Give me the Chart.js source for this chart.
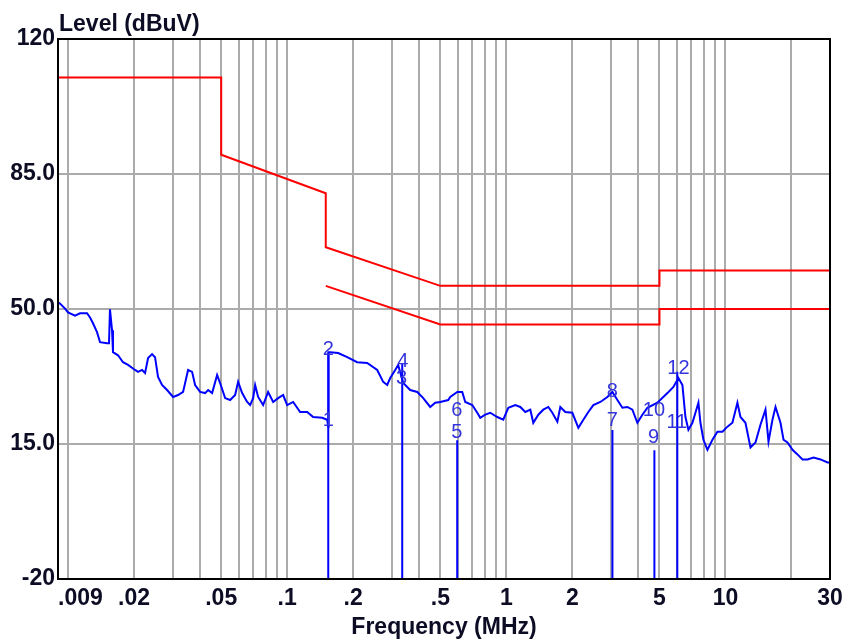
<!DOCTYPE html>
<html>
<head>
<meta charset="utf-8">
<title>Level (dBuV)</title>
<script src="https://cdn.jsdelivr.net/npm/chart.js@4.4.0/dist/chart.umd.min.js"></script>
<style>
  html, body { margin: 0; padding: 0; background: #fff; }
  canvas { display: block; }
</style>
</head>
<body>
<canvas id="myCanvas" width="853" height="639"></canvas>
<script>
// limit lines (quasi-peak and average)
const qpFreq = [0.009, 0.05, 0.05, 0.15, 0.15, 0.5, 5, 5, 30];
const qpLevel = [110, 110, 90, 80, 66, 56, 56, 60, 60];
const avFreq = [0.15, 0.5, 5, 5, 30];
const avLevel = [56, 46, 46, 50, 50];

const traceFreq = [
  0.009, 0.00919, 0.00969, 0.0100, 0.01076, 0.01134, 0.01221, 0.0126, 0.0130, 0.01356,
  0.0140, 0.01507, 0.01538, 0.01554, 0.01588, 0.01604, 0.01691, 0.01782, 0.01879, 0.02022,
  0.02087, 0.02177, 0.02247, 0.02319, 0.02418, 0.02495, 0.02575, 0.02686, 0.02831, 0.03016,
  0.03178, 0.0335, 0.03531, 0.03683, 0.03801, 0.04006, 0.04222, 0.04357, 0.04545, 0.0479,
  0.04943, 0.0521, 0.05492, 0.05788, 0.05974, 0.06231, 0.06567, 0.06776, 0.06993, 0.07142,
  0.0737, 0.07768, 0.08186, 0.0863, 0.09095, 0.09587, 0.1, 0.1065, 0.1146, 0.1234,
  0.1314, 0.1445, 0.1523, 0.1539, 0.1545, 0.1571, 0.1709, 0.1879, 0.2087, 0.2318,
  0.2576, 0.2743, 0.2861, 0.2953, 0.3112, 0.321, 0.3385, 0.3643, 0.3923, 0.4178,
  0.4495, 0.4738, 0.4995, 0.5433, 0.5549, 0.5973, 0.6294, 0.6496, 0.6992, 0.737,
  0.7606, 0.8015, 0.8449, 0.9095, 0.9687, 1.021, 1.099, 1.158, 1.221, 1.287,
  1.328, 1.40, 1.475, 1.555, 1.622, 1.71, 1.764, 1.859, 2.001, 2.132,
  2.247, 2.368, 2.496, 2.687, 2.892, 3.048, 3.213, 3.386, 3.568, 3.761,
  3.964, 4.178, 4.404, 4.892, 5.435, 5.788, 6.101, 6.363, 6.567, 6.777,
  7.069, 7.295, 7.529, 7.689, 7.935, 8.277, 8.723, 9.192, 9.69, 10.21,
  10.76, 11.34, 11.71, 12.34, 13.01, 13.71, 14.45, 15.23, 15.72, 16.39,
  16.92, 17.83, 18.41, 19.19, 20.23, 21.32, 22.47, 23.69, 25.23, 27.16,
  29.23, 30
];
const traceLevel = [
  51.7, 51.4, 50.1, 49.1, 48.3, 48.9, 48.9, 47.8, 46.3, 44.0,
  41.4, 41.1, 41.1, 49.9, 44.5, 38.8, 38.0, 36.2, 35.5, 34.2,
  33.7, 34.2, 33.4, 37.3, 38.3, 37.5, 32.4, 30.3, 29.0, 27.2,
  27.7, 28.5, 34.2, 33.7, 30.3, 28.5, 28.2, 29.0, 28.2, 32.9,
  30.8, 26.9, 26.4, 27.7, 31.1, 28.2, 25.9, 25.1, 26.9, 30.3,
  27.2, 25.1, 28.5, 25.9, 26.9, 27.7, 25.1, 25.9, 23.3, 23.3,
  22.0, 21.8, 21.3, 19.5, 38.8, 38.8, 38.6, 37.5, 36.2, 36.0,
  34.2, 31.1, 30.3, 32.1, 34.2, 35.5, 30.8, 29.0, 28.5, 26.9,
  24.6, 25.7, 25.9, 26.4, 27.2, 28.5, 28.5, 25.9, 25.1, 23.1,
  21.8, 22.6, 23.1, 22.0, 21.3, 24.4, 25.1, 24.6, 23.3, 23.9,
  20.5, 22.6, 23.9, 24.6, 23.1, 20.8, 24.6, 23.3, 23.1, 19.2,
  21.3, 23.3, 25.1, 25.9, 27.2, 28.5, 26.4, 24.4, 24.6, 23.9,
  20.5, 22.6, 24.4, 25.7, 28.2, 29.8, 32.1, 30.3, 22.0, 18.7,
  20.5, 23.1, 25.7, 20.5, 16.1, 13.5, 16.1, 18.2, 18.2, 19.5,
  20.5, 25.7, 22.0, 20.5, 14.1, 15.4, 20.0, 23.9, 15.6, 21.3,
  24.6, 20.5, 16.1, 15.4, 13.5, 12.3, 11.0, 11.0, 11.5, 11.0,
  10.2, 10.2
];

// marker lines and their numbers
const markerFreq = [0.154, 0.335, 0.597, 3.05, 4.74, 6.03];
const markerTop = [38.8, 36.0, 16.0, 18.6, 13.4, 33.7];
const markerNo = ['1', '2', '3', '4', '5', '6', '7', '8', '9', '10', '11', '12'];
const markerNoFreq = [0.154, 0.154, 0.333, 0.337, 0.594, 0.594, 3.05, 3.05, 4.70, 4.72, 6.0, 6.1];
const markerNoLevel = [21.0, 39.6, 32.1, 36.3, 18.1, 23.8, 21.2, 28.5, 16.6, 23.8, 20.7, 34.7];

// axes
const gridFreq = [
  0.009, 0.01, 0.02, 0.03, 0.04, 0.05, 0.06, 0.07, 0.08, 0.09,
  0.1, 0.2, 0.3, 0.4, 0.5, 0.6, 0.7, 0.8, 0.9,
  1, 2, 3, 4, 5, 6, 7, 8, 9, 10, 20, 30
];
const tickFreq = [0.009, 0.02, 0.05, 0.1, 0.2, 0.5, 1, 2, 5, 10, 30];
const tickText = ['.009', '.02', '.05', '.1', '.2', '.5', '1', '2', '5', '10', '30'];
const levelTicks = [-20, 15, 50, 85, 120];
const levelText = ['-20', '15.0', '50.0', '85.0', '120'];

const textColor = '#0c0c24';
const fontFamily = '"Liberation Sans", Arial, sans-serif';
Chart.defaults.font.family = fontFamily;

const pts = (xs, ys) => xs.map((f, i) => ({ x: f, y: ys[i] }));
const markerPts = markerFreq.flatMap((f, i) => [
  { x: f, y: markerTop[i] }, { x: f, y: -20 }, { x: f, y: null }
]);

const annotate = {
  id: 'annotate',
  afterDraw(chart) {
    const { ctx, chartArea: a, scales: { x, y } } = chart;
    ctx.save();
    ctx.strokeStyle = '#000';
    ctx.lineWidth = 2;
    ctx.strokeRect(a.left, a.top, a.right - a.left, a.bottom - a.top);

    ctx.fillStyle = textColor;
    ctx.font = 'bold 23px ' + fontFamily;
    ctx.textAlign = 'left';
    ctx.textBaseline = 'alphabetic';
    ctx.fillText('Level (dBuV)', a.left + 1, a.top - 8);

    // first frequency label sits inside the plot edge
    ctx.textBaseline = 'middle';
    ctx.fillText(tickText[0], x.getPixelForValue(tickFreq[0]), x.top + 8 + 11.5);

    ctx.font = '20px ' + fontFamily;
    ctx.fillStyle = '#3434dc';
    ctx.textAlign = 'center';
    markerNo.forEach((t, i) => {
      ctx.fillText(t, x.getPixelForValue(markerNoFreq[i]), y.getPixelForValue(markerNoLevel[i]));
    });
    ctx.restore();
  }
};

new Chart(document.getElementById('myCanvas'), {
  type: 'line',
  data: {
    datasets: [
      { label: 'Markers', data: markerPts, borderColor: '#0000ff', borderWidth: 2, spanGaps: false },
      { label: 'Level', data: pts(traceFreq, traceLevel), borderColor: '#0000ff', borderWidth: 2 },
      { label: 'QP limit', data: pts(qpFreq, qpLevel), borderColor: '#ff0000', borderWidth: 2 },
      { label: 'AV limit', data: pts(avFreq, avLevel), borderColor: '#ff0000', borderWidth: 2 }
    ]
  },
  options: {
    responsive: false,
    animation: false,
    layout: { padding: { left: 0, right: 23, top: 39, bottom: 0 } },
    elements: { point: { radius: 0 }, line: { tension: 0, fill: false } },
    plugins: { legend: { display: false }, tooltip: { enabled: false } },
    scales: {
      x: {
        type: 'logarithmic',
        min: 0.009,
        max: 30,
        afterBuildTicks: (s) => { s.ticks = gridFreq.map((v) => ({ value: v })); },
        afterFit: (s) => { s.height = 60; },
        grid: { color: '#ababab', lineWidth: 2, drawTicks: false },
        border: { display: true, color: '#000', width: 2 },
        ticks: {
          autoSkip: false,
          maxRotation: 0,
          minRotation: 0,
          padding: 8,
          color: textColor,
          font: { size: 23, weight: 'bold', lineHeight: 1 },
          callback: (v) => {
            const i = tickFreq.findIndex((t) => Math.abs(t - v) < t * 1e-6);
            return i > 0 ? tickText[i] : '';
          }
        },
        title: {
          display: true,
          text: 'Frequency (MHz)',
          color: textColor,
          padding: 0,
          font: { size: 23, weight: 'bold', lineHeight: 1 }
        }
      },
      y: {
        min: -20,
        max: 120,
        afterBuildTicks: (s) => { s.ticks = levelTicks.map((v) => ({ value: v })); },
        afterFit: (s) => { s.width = 58; },
        grid: { color: '#ababab', lineWidth: 2, drawTicks: false },
        border: { display: true, color: '#000', width: 2 },
        ticks: {
          padding: 3,
          color: textColor,
          font: { size: 23, weight: 'bold', lineHeight: 1 },
          callback: (v) => levelText[levelTicks.indexOf(v)]
        }
      }
    }
  },
  plugins: [annotate]
});
</script>
</body>
</html>
